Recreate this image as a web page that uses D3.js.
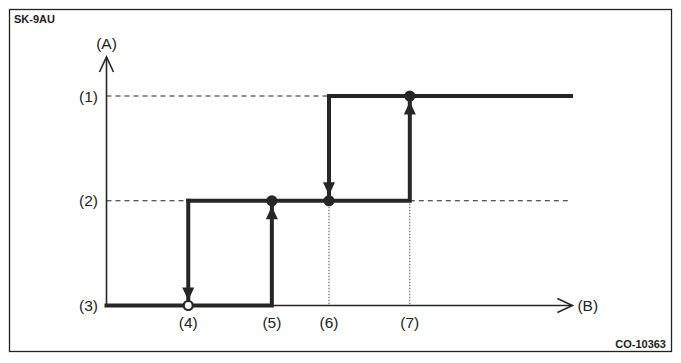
<!DOCTYPE html>
<html>
<head>
<meta charset="utf-8">
<script src="https://cdn.jsdelivr.net/npm/d3@7"></script>
<style>
  body { margin: 0; background: #fff; }
  svg text { font-family: "Liberation Sans", Arial, sans-serif; fill: #222; }
</style>
</head>
<body>
<div id="chart"></div>
<script>
// levels on the (A) axis, top to bottom
var levelLabels = ["(1)", "(2)", "(3)"];
var levelValues = [2, 1, 0];

// switching points on the (B) axis
var pointLabels = ["(4)", "(5)", "(6)", "(7)"];
var pointValues = [17.6, 35.6, 47.9, 65.3];

// thick step path: [B, A] pairs
var lowerBranch = [[0, 0], [35.6, 0], [35.6, 1]];
var middleBranch = [[17.6, 1], [65.3, 1], [65.3, 2]];
var upperBranch = [[47.9, 2], [100, 2]];
var dropLow = [[17.6, 1], [17.6, 0]];
var dropHigh = [[47.9, 2], [47.9, 1]];

// markers: filled / open dots
var filledDots = [[35.6, 1], [47.9, 1], [65.3, 2]];
var openDots = [[17.6, 0]];

// arrows on the verticals: [B, tip A, direction]
var arrows = [[35.6, 1, "up"], [65.3, 2, "up"], [17.6, 0, "down"], [47.9, 1, "down"]];

var svgWidth = 681, svgHeight = 363;
var svg = d3.select("#chart").append("svg")
  .attr("width", svgWidth)
  .attr("height", svgHeight);

// frame
svg.append("rect")
  .attr("x", 9.5).attr("y", 9.5)
  .attr("width", 662).attr("height", 342)
  .attr("fill", "none")
  .attr("stroke", "#222")
  .attr("stroke-width", 1.3);

svg.append("text").attr("x", 14).attr("y", 23)
  .style("font-size", "11px").style("font-weight", "bold")
  .text("SK-9AU");
svg.append("text").attr("x", 666).attr("y", 348)
  .attr("text-anchor", "end")
  .style("font-size", "11px").style("font-weight", "bold")
  .text("CO-10363");

var x = d3.scaleLinear().domain([0, 100]).range([106.5, 571]);
var y = d3.scaleLinear().domain([0, 2]).range([305.5, 96]);

var ink = "#262626";
var line = d3.line().x(d => x(d[0])).y(d => y(d[1]));

// dashed level guides
var dashed = [[[0, 2], [47.9, 2]], [[0, 1], [17.6, 1]], [[65.3, 1], [100, 1]]];
svg.selectAll(".guide").data(dashed).join("path")
  .attr("class", "guide")
  .attr("d", line)
  .attr("fill", "none")
  .attr("stroke", "#222")
  .attr("stroke-width", 1.2)
  .attr("stroke-dasharray", "5,4");

// dotted drops to the (B) axis
svg.selectAll(".drop").data([47.9, 65.3]).join("line")
  .attr("class", "drop")
  .attr("x1", d => x(d)).attr("x2", d => x(d))
  .attr("y1", y(1)).attr("y2", y(0))
  .attr("stroke", "#555")
  .attr("stroke-width", 1)
  .attr("stroke-dasharray", "1.5,1.5");

// axes
var yTop = 57, xEnd = x(100.3);
svg.append("line")
  .attr("x1", x(0)).attr("x2", x(0))
  .attr("y1", y(0)).attr("y2", yTop)
  .attr("stroke", ink).attr("stroke-width", 1.6);
svg.append("path")
  .attr("d", `M${x(0) - 7},${yTop + 15}L${x(0)},${yTop}L${x(0) + 7},${yTop + 15}`)
  .attr("fill", "none").attr("stroke", ink).attr("stroke-width", 1.6);
svg.append("line")
  .attr("x1", x(0)).attr("x2", xEnd)
  .attr("y1", y(0)).attr("y2", y(0))
  .attr("stroke", ink).attr("stroke-width", 1.6);
svg.append("path")
  .attr("d", `M${xEnd - 15},${y(0) - 7}L${xEnd},${y(0)}L${xEnd - 15},${y(0) + 7}`)
  .attr("fill", "none").attr("stroke", ink).attr("stroke-width", 1.6);

svg.append("text").attr("x", x(0)).attr("y", 49)
  .attr("text-anchor", "middle").style("font-size", "15.5px").text("(A)");
svg.append("text").attr("x", xEnd + 5).attr("y", y(0) + 5.5)
  .style("font-size", "15.5px").text("(B)");

// tick labels
svg.selectAll(".lvl").data(levelValues).join("text")
  .attr("class", "lvl")
  .attr("x", 98).attr("y", d => y(d) + 5.5)
  .attr("text-anchor", "end")
  .style("font-size", "15.5px")
  .text((d, i) => levelLabels[i]);
svg.selectAll(".pt").data(pointValues).join("text")
  .attr("class", "pt")
  .attr("x", d => x(d)).attr("y", 328)
  .attr("text-anchor", "middle")
  .style("font-size", "15.5px")
  .text((d, i) => pointLabels[i]);

// thick hysteresis path
svg.selectAll(".step").data([lowerBranch, middleBranch, upperBranch, dropLow, dropHigh]).join("path")
  .attr("class", "step")
  .attr("d", line)
  .attr("fill", "none")
  .attr("stroke", ink)
  .attr("stroke-width", 4)
  .attr("stroke-linejoin", "miter")
  .attr("stroke-linecap", "square");

// arrow heads
svg.selectAll(".head").data(arrows).join("path")
  .attr("class", "head")
  .attr("d", d => {
    var cx = x(d[0]), r = d[1] === 0 ? 5 : 5.5;
    var tip = d[2] === "up" ? y(d[1]) + r : y(d[1]) - r;
    var base = d[2] === "up" ? tip + 13 : tip - 13;
    return `M${cx},${tip}L${cx - 6},${base}L${cx + 6},${base}Z`;
  })
  .attr("fill", ink);

// dots
svg.selectAll(".dot").data(filledDots).join("circle")
  .attr("class", "dot")
  .attr("cx", d => x(d[0])).attr("cy", d => y(d[1]))
  .attr("r", 5.5)
  .attr("fill", ink);
svg.selectAll(".odot").data(openDots).join("circle")
  .attr("class", "odot")
  .attr("cx", d => x(d[0])).attr("cy", d => y(d[1]))
  .attr("r", 4.5)
  .attr("fill", "#fff")
  .attr("stroke", ink)
  .attr("stroke-width", 2.2);
</script>
</body>
</html>
